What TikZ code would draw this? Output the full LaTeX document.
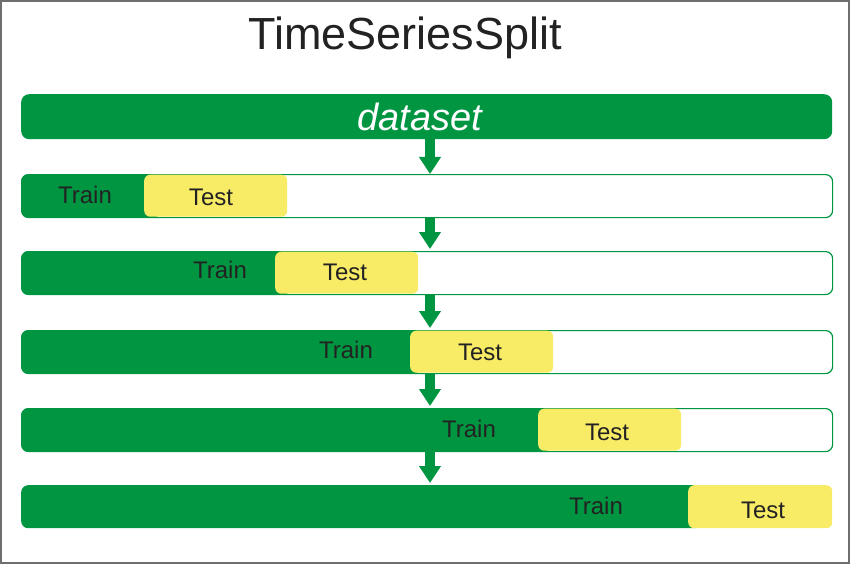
\documentclass[tikz,border=0pt]{standalone}
\usepackage{fontspec}
\setmainfont{Liberation Sans}
\usetikzlibrary{arrows.meta}
\definecolor{grn}{HTML}{009641}
\definecolor{ylw}{HTML}{F8EB66}
\definecolor{txt}{HTML}{222222}
\definecolor{frame}{HTML}{6E6E6E}
\tikzset{
  rowbox/.style={draw=grn, line width=1.2pt, fill=white, rounded corners=7pt, inner sep=0pt, anchor=north west, minimum height=43pt},
  trainbox/.style={fill=grn, rounded corners=7pt, inner sep=0pt, anchor=north west, minimum height=43pt},
  testbox/.style={fill=ylw, rounded corners=6pt, inner sep=0pt, anchor=north west, minimum height=42pt, minimum width=143pt},
  lbl/.style={text=txt, font=\fontsize{24}{28}\selectfont, inner sep=0pt},
  flow/.style={draw=grn, line width=10pt, -{Triangle[width=21pt,length=17pt]}}
}
\begin{document}
\begin{tikzpicture}[x=1pt,y=-1pt]
\useasboundingbox (0,0) rectangle (850,564);
\draw[frame, line width=1.6pt] (0.8,0.8) rectangle (849.2,563.2);
\node[text=txt, font=\fontsize{45}{50}\selectfont, inner sep=0pt] (title) at (405,38) {TimeSeriesSplit};
% dataset
\node[fill=grn, rounded corners=8pt, inner sep=0pt, anchor=north west, minimum width=811pt, minimum height=45pt] (ds) at (21,94) {};
\node[text=white, font=\fontsize{38}{44}\selectfont\itshape, inner sep=0pt] (dst) at (420,117) {dataset};
% row 1
\node[rowbox, minimum width=811pt] (r1) at (21,174) {};
\node[trainbox, minimum width=140pt] (g1) at (21,174) {};
\node[testbox] (t1) at (144,174.5) {};
\node[lbl] (tr1) at (85,195) {Train};
\node[lbl] (te1) at (211,197) {Test};
% row 2
\node[rowbox, minimum width=811pt] (r2) at (21,251) {};
\node[trainbox, minimum width=270pt] (g2) at (21,251) {};
\node[testbox] (t2) at (275,251.5) {};
\node[lbl] (tr2) at (220,270) {Train};
\node[lbl] (te2) at (345,272) {Test};
% row 3
\node[rowbox, minimum width=811pt] (r3) at (21,330) {};
\node[trainbox, minimum width=400pt] (g3) at (21,330) {};
\node[testbox] (t3) at (410,330.5) {};
\node[lbl] (tr3) at (346,350) {Train};
\node[lbl] (te3) at (480,352) {Test};
% row 4
\node[rowbox, minimum width=811pt] (r4) at (21,408) {};
\node[trainbox, minimum width=530pt] (g4) at (21,408) {};
\node[testbox] (t4) at (538,408.5) {};
\node[lbl] (tr4) at (469,429) {Train};
\node[lbl] (te4) at (607,432) {Test};
% row 5
\node[rowbox, minimum width=811pt, draw=none, fill=none] (r5) at (21,485) {};
\node[trainbox, minimum width=680pt] (g5) at (21,485) {};
\node[testbox, minimum width=144pt, minimum height=43pt] (t5) at (688,485) {};
\node[lbl] (tr5) at (596,506) {Train};
\node[lbl] (te5) at (763,510) {Test};
% arrows
\draw[flow] (ds.south -| 430,0) -- (r1.north -| 430,0);
\draw[flow] (r1.south -| 430,0) -- ([yshift=2pt]r2.north -| 430,0);
\draw[flow] (r2.south -| 430,0) -- ([yshift=2pt]r3.north -| 430,0);
\draw[flow] (r3.south -| 430,0) -- ([yshift=2pt]r4.north -| 430,0);
\draw[flow] (r4.south -| 430,0) -- ([yshift=2pt]r5.north -| 430,0);
\end{tikzpicture}
\end{document}
